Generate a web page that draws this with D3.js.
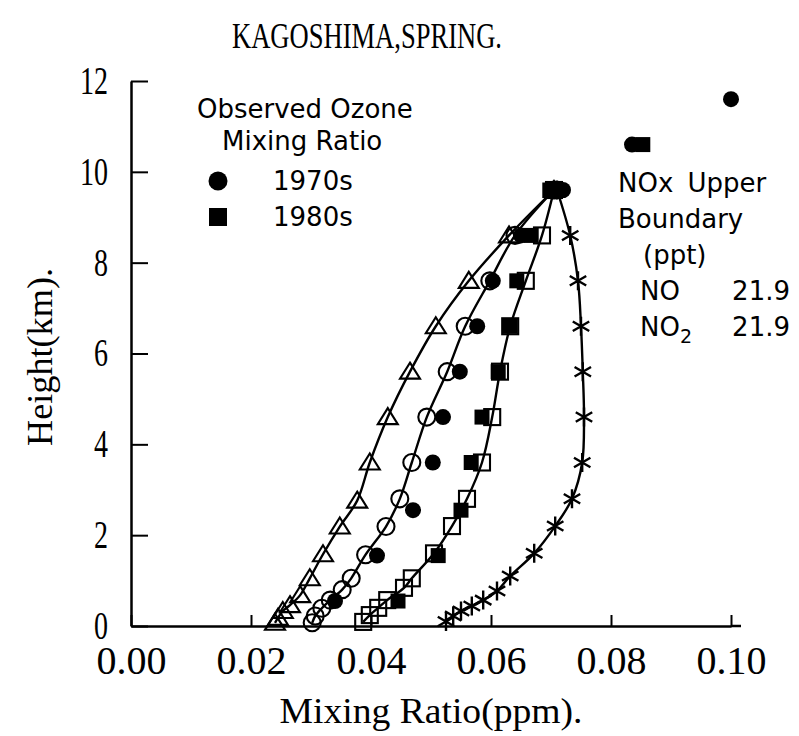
<!DOCTYPE html>
<html>
<head>
<meta charset="utf-8">
<script src="https://cdn.jsdelivr.net/npm/d3@7"></script>
<style>
  html, body { margin: 0; padding: 0; background: #fff; }
  svg { display: block; }
</style>
</head>
<body>
<svg id="chart" width="799" height="736"></svg>
<script>
// ---------------- DATA ----------------
const title = "KAGOSHIMA,SPRING.";
const xTitle = "Mixing Ratio(ppm).";
const yTitle = "Height(km).";
const xMajorTicks = [0.00, 0.02, 0.04, 0.06, 0.08, 0.10];
const xMinorTicks = [0.01, 0.03, 0.05, 0.07, 0.09];
const yMajorTicks = [0, 2, 4, 6, 8, 10, 12];
const yMinorTicks = [1, 3, 5, 7, 9, 11];

// model profile: open triangles
const triHeight = [0.07, 0.18, 0.33, 0.46, 0.68, 1.05, 1.58, 2.19, 2.76, 3.6, 4.6, 5.6, 6.6, 7.6, 8.6, 9.6];
const triValue  = [0.0240, 0.0245, 0.0253, 0.0265, 0.0282, 0.0298, 0.0320, 0.0348, 0.0377, 0.0398, 0.0428, 0.0465, 0.0508, 0.0563, 0.0630, 0.0705];
// model profile: open circles
const circHeight = [0.07, 0.22, 0.39, 0.57, 0.8, 1.05, 1.57, 2.19, 2.8, 3.6, 4.6, 5.6, 6.6, 7.6, 8.6, 9.6];
const circValue  = [0.0302, 0.0307, 0.0318, 0.0332, 0.0352, 0.0367, 0.0391, 0.0425, 0.0448, 0.0468, 0.0493, 0.0527, 0.0557, 0.0598, 0.0640, 0.0705];
// model profile: open squares
const sqHeight = [0.09, 0.24, 0.4, 0.57, 0.84, 1.05, 1.6, 2.2, 2.8, 3.6, 4.6, 5.6, 6.6, 7.6, 8.6, 9.6];
const sqValue  = [0.0387, 0.0398, 0.0412, 0.0427, 0.0455, 0.0468, 0.0505, 0.0535, 0.0560, 0.0585, 0.0602, 0.0615, 0.0632, 0.0658, 0.0685, 0.0705];
// model profile: asterisks
const astHeight = [0.1, 0.22, 0.33, 0.44, 0.57, 0.77, 1.1, 1.6, 2.2, 2.8, 3.6, 4.6, 5.6, 6.6, 7.6, 8.6, 9.6];
const astValue  = [0.0525, 0.0537, 0.0550, 0.0568, 0.0587, 0.0610, 0.0632, 0.0672, 0.0707, 0.0735, 0.0752, 0.0755, 0.0753, 0.0750, 0.0745, 0.0732, 0.0710];
// observed 1970s (filled circles)
const obs70Height = [0.55, 1.55, 2.55, 3.6, 4.6, 5.6, 6.6, 7.6, 8.6, 9.6, 10.6, 11.6];
const obs70Value  = [0.0340, 0.0410, 0.0470, 0.0503, 0.0520, 0.0548, 0.0577, 0.0603, 0.0650, 0.0720, 0.0835, 0.1000];
// observed 1980s (filled squares)
const obs80Height = [0.55, 1.55, 2.55, 3.6, 4.6, 5.6, 6.6, 7.6, 8.6, 9.6, 10.6];
const obs80Value  = [0.0445, 0.0512, 0.0550, 0.0567, 0.0585, 0.0612, 0.0632, 0.0643, 0.0667, 0.0698, 0.0853];

const legendTitle = ["Observed Ozone", "Mixing Ratio"];
const legendLabels = ["1970s", "1980s"];
const noxLines = ["NOx Upper", "Boundary", "(ppt)"];
const noxSpecies = ["NO", "NO2"];
const noxValues = ["21.9", "21.9"];

// ---------------- DRAW ----------------
const svg = d3.select("#chart");
const serif = "'Liberation Serif', 'DejaVu Serif', serif";
const sans = "'DejaVu Sans', Verdana, sans-serif";

const x = d3.scaleLinear().domain([0, 0.10]).range([131, 731]);
const y = d3.scaleLinear().domain([0, 12]).range([626, 81]);

const zip = (hs, vs) => hs.map((h, i) => ({ h, v: vs[i] }));
const tri = zip(triHeight, triValue);
const circ = zip(circHeight, circValue);
const sq = zip(sqHeight, sqValue);
const ast = zip(astHeight, astValue);
const obs70 = zip(obs70Height, obs70Value);
const obs80 = zip(obs80Height, obs80Value);

// Axes
const xAxisG = svg.append("g").attr("transform", `translate(0,${y(0)})`);
xAxisG.call(d3.axisBottom(x).tickValues(xMinorTicks).tickSize(-6).tickSizeOuter(0).tickFormat(""));
xAxisG.call(d3.axisBottom(x).tickValues(xMajorTicks).tickSize(-11).tickSizeOuter(0).tickPadding(20).tickFormat(d3.format(".2f")));
xAxisG.selectAll(".domain").attr("stroke-width", 2.5);
xAxisG.selectAll(".tick line").attr("stroke-width", 2);
xAxisG.selectAll(".tick text")
  .attr("font-family", serif).attr("font-size", 39).attr("fill", "#000")
  .attr("textLength", 70).attr("lengthAdjust", "spacingAndGlyphs");
svg.append("line").attr("x1", x(0.10)).attr("x2", x(0.10) + 10)
  .attr("y1", y(0)).attr("y2", y(0)).attr("stroke", "#000").attr("stroke-width", 2.5);

const yAxisG = svg.append("g").attr("transform", `translate(${x(0)},0)`);
yAxisG.call(d3.axisLeft(y).tickValues(yMinorTicks).tickSize(-8).tickSizeOuter(0).tickFormat(""));
yAxisG.call(d3.axisLeft(y).tickValues(yMajorTicks).tickSize(-17).tickSizeOuter(0).tickPadding(23).tickFormat(d3.format("d")));
yAxisG.selectAll(".domain").attr("stroke-width", 2.5);
yAxisG.selectAll(".tick line").attr("stroke-width", 2);
yAxisG.selectAll(".tick text")
  .attr("font-family", serif).attr("font-size", 39).attr("fill", "#000")
  .attr("textLength", d => String(d).length * 14).attr("lengthAdjust", "spacingAndGlyphs");

// Titles
svg.append("text").attr("x", 367).attr("y", 48).attr("text-anchor", "middle")
  .attr("font-family", serif).attr("font-size", 36)
  .attr("textLength", 270).attr("lengthAdjust", "spacingAndGlyphs").text(title);
svg.append("text").attr("x", 431).attr("y", 723).attr("text-anchor", "middle")
  .attr("font-family", serif).attr("font-size", 36)
  .attr("textLength", 303).attr("lengthAdjust", "spacingAndGlyphs").text(xTitle);
svg.append("text").attr("transform", "translate(52,357) rotate(-90)").attr("text-anchor", "middle")
  .attr("font-family", serif).attr("font-size", 36)
  .attr("textLength", 178).attr("lengthAdjust", "spacingAndGlyphs").text(yTitle);

// Lines
const line = d3.line().x(d => x(d.v)).y(d => y(d.h)).curve(d3.curveCatmullRom.alpha(0.5));
[tri, circ, sq, ast].forEach(s => {
  svg.append("path").datum(s).attr("d", line)
    .attr("fill", "none").attr("stroke", "#000").attr("stroke-width", 2.4);
});

// Markers
const mk = svg.append("g");
// open triangles
mk.selectAll(".tri").data(tri).join("path")
  .attr("d", d => { const cx = x(d.v), cy = y(d.h); return `M${cx},${cy - 9}L${cx + 10},${cy + 7}L${cx - 10},${cy + 7}Z`; })
  .attr("fill", "none").attr("stroke", "#000").attr("stroke-width", 2.1);
// open circles
mk.selectAll(".circ").data(circ).join("circle")
  .attr("cx", d => x(d.v)).attr("cy", d => y(d.h)).attr("r", 8.5)
  .attr("fill", "none").attr("stroke", "#000").attr("stroke-width", 2.1);
// open squares
mk.selectAll(".sq").data(sq).join("rect")
  .attr("x", d => x(d.v) - 8).attr("y", d => y(d.h) - 8).attr("width", 16).attr("height", 16)
  .attr("fill", "none").attr("stroke", "#000").attr("stroke-width", 2.1);
// asterisks
mk.selectAll(".ast").data(ast).join("path")
  .attr("d", d => {
    const cx = x(d.v), cy = y(d.h), r = 9.5, dx = r * Math.cos(Math.PI / 6), dy = r * Math.sin(Math.PI / 6);
    return `M${cx},${cy - r}L${cx},${cy + r}M${cx - dx},${cy - dy}L${cx + dx},${cy + dy}M${cx - dx},${cy + dy}L${cx + dx},${cy - dy}`;
  })
  .attr("fill", "none").attr("stroke", "#000").attr("stroke-width", 2.4);
// observed 1980s filled squares
mk.selectAll(".o80").data(obs80).join("rect")
  .attr("x", d => x(d.v) - 7.5).attr("y", d => y(d.h) - 7.5).attr("width", 15).attr("height", 15)
  .attr("fill", "#000");
// observed 1970s filled circles
mk.selectAll(".o70").data(obs70).join("circle")
  .attr("cx", d => x(d.v)).attr("cy", d => y(d.h)).attr("r", 8)
  .attr("fill", "#000");

// Legend
const lg = svg.append("g").attr("font-family", sans).attr("font-size", 26).attr("fill", "#000");
lg.append("text").attr("x", 197).attr("y", 118).text(legendTitle[0]);
lg.append("text").attr("x", 222).attr("y", 150).text(legendTitle[1]);
lg.append("circle").attr("cx", 218).attr("cy", 181).attr("r", 9.5).attr("fill", "#000");
lg.append("text").attr("x", 273).attr("y", 190).text(legendLabels[0]);
lg.append("rect").attr("x", 209).attr("y", 208).attr("width", 18).attr("height", 18).attr("fill", "#000");
lg.append("text").attr("x", 273).attr("y", 226).text(legendLabels[1]);

// NOx block
const nb = svg.append("g").attr("font-family", sans).attr("font-size", 26).attr("fill", "#000");
nb.append("text").attr("x", 618).attr("y", 192).attr("word-spacing", 6).text(noxLines[0]);
nb.append("text").attr("x", 618).attr("y", 228).text(noxLines[1]);
nb.append("text").attr("x", 643).attr("y", 264).text(noxLines[2]);
nb.append("text").attr("x", 640).attr("y", 300).text(noxSpecies[0]);
nb.append("text").attr("x", 790).attr("y", 300).attr("text-anchor", "end").text(noxValues[0]);
const t2 = nb.append("text").attr("x", 640).attr("y", 336);
t2.append("tspan").text(noxSpecies[1].slice(0, 2));
t2.append("tspan").attr("dy", 7).attr("font-size", 19).text(noxSpecies[1].slice(2));
nb.append("text").attr("x", 790).attr("y", 336).attr("text-anchor", "end").text(noxValues[1]);
</script>
</body>
</html>
